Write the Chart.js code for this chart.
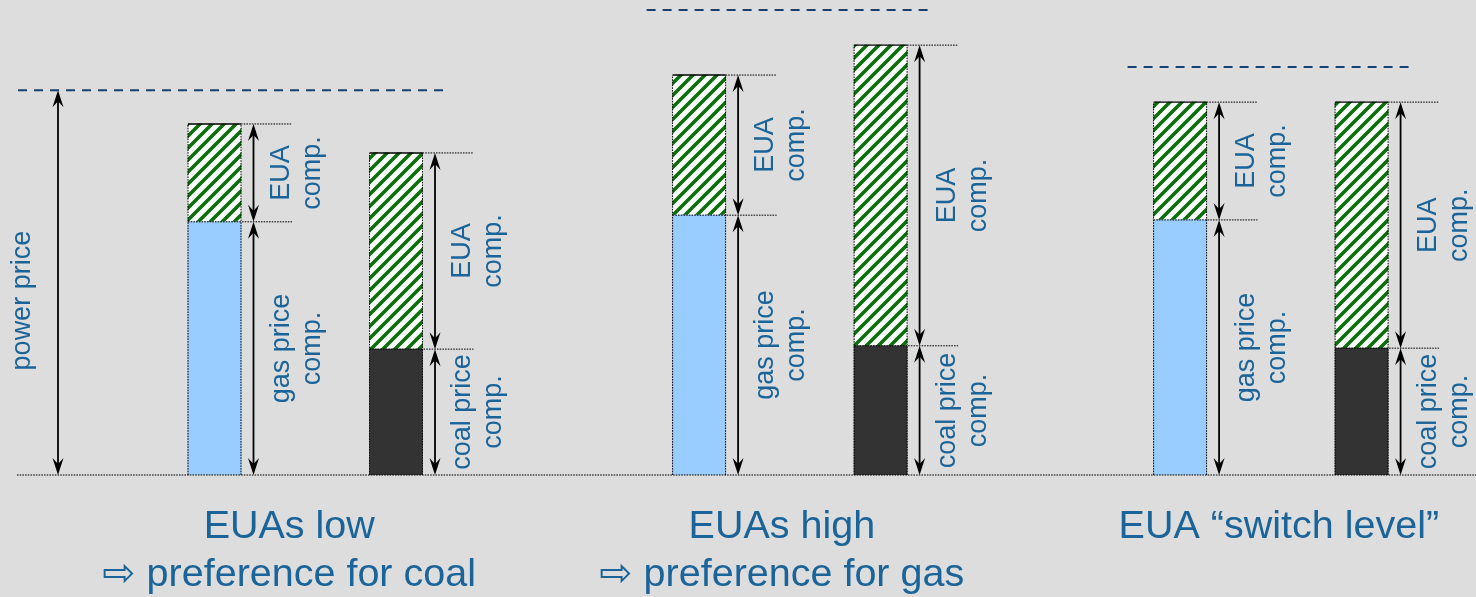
<!DOCTYPE html>
<html>
<head>
<meta charset="utf-8">
<script src="https://cdn.jsdelivr.net/npm/chart.js@4/dist/chart.umd.min.js"></script>
<style>
  html, body { margin: 0; padding: 0; background: #dddddd; }
  #wrap { width: 1476px; height: 597px; position: relative; }
  canvas { display: block; }
</style>
</head>
<body>
<div id="wrap"><canvas id="c" width="1476" height="597"></canvas></div>
<script>
// Merit order of gas vs coal plants under three EUA price scenarios
const scenarios   = ['EUAs low', 'EUAs high', 'EUA \u201Cswitch level\u201D'];
const conclusions = ['\u21E8 preference for coal', '\u21E8 preference for gas', ''];
const powerPrice  = [81.0, 97.9, 85.9];
const gasFuel     = [53.3, 54.7, 53.7];
const gasEua      = [20.6, 29.5, 24.8];
const coalFuel    = [26.5, 27.2, 26.7];
const coalEua     = [41.3, 63.3, 51.8];
const groupSlots  = [0, 2.67, 5.32];   // x slot of each scenario's gas bar; coal bar sits one slot right

const TEXT_BLUE = '#1a6499';
const DASH_BLUE = '#17426f';
const FONT = '"Liberation Sans", Arial, "DejaVu Sans", sans-serif';

// green diagonal hatching on white
function makeHatch() {
  const s = 12;
  const c = document.createElement('canvas');
  c.width = s; c.height = s;
  const g = c.getContext('2d');
  g.fillStyle = '#ffffff';
  g.fillRect(0, 0, s, s);
  g.strokeStyle = '#0b6f0b';
  g.lineWidth = 3.6;
  g.beginPath();
  g.moveTo(-s / 2, s / 2); g.lineTo(s / 2, -s / 2);
  g.moveTo(0, s); g.lineTo(s, 0);
  g.moveTo(s / 2, s * 1.5); g.lineTo(s * 1.5, s / 2);
  g.stroke();
  return g.createPattern(c, 'repeat');
}

const fuelData = [], fuelColors = [], euaData = [];
groupSlots.forEach((s, g) => {
  fuelData.push({ x: s, y: gasFuel[g] });
  fuelColors.push('#99ccff');
  fuelData.push({ x: s + 1, y: coalFuel[g] });
  fuelColors.push('#333333');
  euaData.push({ x: s, y: [gasFuel[g], gasFuel[g] + gasEua[g]] });
  euaData.push({ x: s + 1, y: [coalFuel[g], coalFuel[g] + coalEua[g]] });
});

function dotted(ctx, x1, y1, x2, y2) {
  ctx.save();
  ctx.strokeStyle = '#000';
  ctx.lineWidth = 1;
  ctx.setLineDash([1.6, 1.1]);
  ctx.beginPath();
  ctx.moveTo(x1, y1); ctx.lineTo(x2, y2);
  ctx.stroke();
  ctx.restore();
}

function head(ctx, x, y, dir) {
  // dir = -1 points up, +1 points down; tip at (x, y)
  const L = 17, W = 5.5, N = 11;
  ctx.beginPath();
  ctx.moveTo(x, y);
  ctx.lineTo(x - W, y - dir * L);
  ctx.lineTo(x, y - dir * N);
  ctx.lineTo(x + W, y - dir * L);
  ctx.closePath();
  ctx.fill();
}

function arrow(ctx, x, yTop, yBottom) {
  ctx.save();
  ctx.strokeStyle = '#000';
  ctx.fillStyle = '#000';
  ctx.lineWidth = 1.8;
  ctx.beginPath();
  ctx.moveTo(x, yTop + 4); ctx.lineTo(x, yBottom - 4);
  ctx.stroke();
  head(ctx, x, yTop, -1);
  head(ctx, x, yBottom, 1);
  ctx.restore();
}

function vlabel(ctx, lines, baseX, centerY) {
  ctx.save();
  ctx.fillStyle = TEXT_BLUE;
  ctx.font = '27px ' + FONT;
  ctx.textAlign = 'center';
  ctx.textBaseline = 'alphabetic';
  ctx.translate(baseX, centerY);
  ctx.rotate(-Math.PI / 2);
  lines.forEach((t, i) => ctx.fillText(t, 0, i * 31));
  ctx.restore();
}

const annotations = {
  id: 'annotations',
  beforeDraw(chart) {
    const ctx = chart.ctx;
    ctx.save();
    ctx.fillStyle = '#dddddd';
    ctx.fillRect(0, 0, chart.width, chart.height);
    ctx.restore();
  },
  afterDatasetsDraw(chart) {
    const ctx = chart.ctx;
    const ys = chart.scales.y;
    const fuelMeta = chart.getDatasetMeta(0).data;
    const y0 = ys.getPixelForValue(0);
    const EXT = 51, GAP = 12.5, OFF = 35;

    let firstArrowX = null;

    groupSlots.forEach((s, g) => {
      const bars = [
        { el: fuelMeta[2 * g],     fuel: gasFuel[g],  eua: gasEua[g],  name: 'gas price' },
        { el: fuelMeta[2 * g + 1], fuel: coalFuel[g], eua: coalEua[g], name: 'coal price' }
      ];
      const half = bars[0].el.width / 2;
      const gasLeft = bars[0].el.x - half;
      const coalRight = bars[1].el.x + half;

      bars.forEach(b => {
        const left = b.el.x - half, right = b.el.x + half;
        const yMid = ys.getPixelForValue(b.fuel);
        const yTop = ys.getPixelForValue(b.fuel + b.eua);
        // bar outline
        dotted(ctx, left, y0, left, yTop);
        dotted(ctx, right, y0, right, yTop);
        ctx.save();
        ctx.strokeStyle = '#000'; ctx.lineWidth = 1.4;
        ctx.beginPath(); ctx.moveTo(left, yTop); ctx.lineTo(right, yTop); ctx.stroke();
        ctx.restore();
        // guide lines to the dimension arrows
        dotted(ctx, right, yTop, right + EXT, yTop);
        dotted(ctx, left, yMid, right + EXT, yMid);
        const ax = right + GAP;
        arrow(ctx, ax, yTop, yMid);
        arrow(ctx, ax, yMid, y0);
        vlabel(ctx, ['EUA', 'comp.'], ax + OFF, (yTop + yMid) / 2);
        vlabel(ctx, [b.name, 'comp.'], ax + OFF, (yMid + y0) / 2);
      });

      // power price level
      const yp = ys.getPixelForValue(powerPrice[g]);
      let lineLeft = gasLeft - 26;
      if (g === 0) {
        const px = gasLeft - 130;
        firstArrowX = px;
        lineLeft = px - 40;
        arrow(ctx, px, yp, y0);
        vlabel(ctx, ['power price'], px - 28, (yp + y0) / 2 + 18);
      }
      ctx.save();
      ctx.strokeStyle = DASH_BLUE;
      ctx.lineWidth = 2;
      ctx.setLineDash([9, 7]);
      ctx.beginPath();
      ctx.moveTo(lineLeft, yp); ctx.lineTo(coalRight + 26, yp);
      ctx.stroke();
      ctx.restore();

      // scenario captions
      const mid = (bars[0].el.x + bars[1].el.x) / 2 + [-16, -8, 8][g];
      ctx.save();
      ctx.fillStyle = TEXT_BLUE;
      ctx.font = '39.5px ' + FONT;
      ctx.textAlign = 'center';
      ctx.textBaseline = 'alphabetic';
      ctx.fillText(scenarios[g], mid, y0 + 63);
      if (conclusions[g]) ctx.fillText(conclusions[g], mid, y0 + 111);
      ctx.restore();
    });

    // zero line
    dotted(ctx, firstArrowX - 41, y0, chart.width, y0);
  }
};

new Chart(document.getElementById('c'), {
  type: 'bar',
  data: {
    datasets: [
      { label: 'fuel price component', data: fuelData, backgroundColor: fuelColors,
        grouped: false, barThickness: 53, borderWidth: 0 },
      { label: 'EUA component', data: euaData, backgroundColor: makeHatch(),
        grouped: false, barThickness: 53, borderWidth: 0, borderSkipped: false }
    ]
  },
  options: {
    responsive: false,
    animation: false,
    devicePixelRatio: 1,
    layout: { padding: { top: 0, bottom: 122, left: 0, right: 0 } },
    plugins: { legend: { display: false }, tooltip: { enabled: false } },
    scales: {
      x: { type: 'linear', display: false, offset: false,
           min: -214.5 / 181.5, max: -214.5 / 181.5 + 1476 / 181.5 },
      y: { type: 'linear', display: false, min: 0, max: 100 }
    }
  },
  plugins: [annotations]
});
</script>
</body>
</html>
